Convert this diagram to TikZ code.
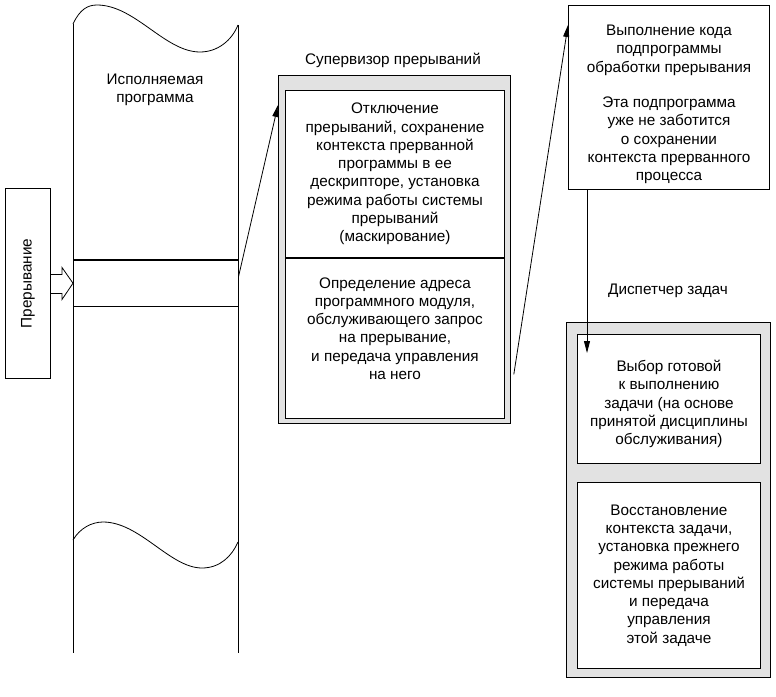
\documentclass[tikz,border=0pt]{standalone}
\usepackage{fontspec}
\setmainfont{Liberation Sans}
\usepackage{tikz}
\usetikzlibrary{arrows.meta, positioning, calc}
\definecolor{stipple}{HTML}{E2E2E2}

\tikzset{
  box/.style={draw, line width=1pt, fill=white, inner sep=0pt},
  shadebox/.style={draw, line width=0.8pt, fill=stipple, inner sep=0pt},
  txt/.style={font=\fontsize{15.3}{18.3}\selectfont, align=center},
  conn/.style={-{Triangle[length=12pt,width=6pt]}, line width=0.8pt}
}

\begin{document}
\begin{tikzpicture}[x=1pt, y=-1pt]
  \useasboundingbox (0,0) rectangle (776,696);

  % Executing program: tape with wavy cut-offs
  \draw[line width=1pt] (73,24) -- (73,653);
  \draw[line width=1pt] (238,25) -- (238,653);
  \draw[line width=0.8pt] (73,24) .. controls (80,9) and (88,5) .. (97,5)
    .. controls (135,5) and (165,52) .. (200,52)
    .. controls (218,52) and (232,40) .. (238,25);
  \draw[line width=0.8pt] (73,540) .. controls (80,528) and (92,522) .. (103,522)
    .. controls (140,522) and (170,568) .. (202,568)
    .. controls (220,568) and (232,556) .. (238,542);
  \node[txt] (prog) at (155,90) {Исполняемая\\программа};

  % interrupted place in the program
  \node[minimum width=165pt, minimum height=46pt, anchor=north west, inner sep=0pt] (band) at (73,260) {};
  \draw[line width=1.3pt] (band.north west) -- (band.north east);
  \draw[line width=1.3pt] (band.south west) -- (band.south east);

  % interrupt request
  \node[box, minimum width=45pt, minimum height=190pt, anchor=north west] (intr) at (5,188) {};
  \node[txt, rotate=90] at (intr.center) {Прерывание};
  \draw[line width=0.8pt, fill=white]
    ($(intr.east)+(0,-9)$) -- ++(11,0) -- ++(0,-7) -- (band.west)
    -- ($(intr.east)+(11,16)$) -- ++(0,-6) -- ($(intr.east)+(0,10)$);

  % interrupt supervisor
  \node[txt] (suplbl) at (393,60) {Супервизор прерываний};
  \node[shadebox, minimum width=232pt, minimum height=348pt, anchor=north west] (sup) at (278,75) {};
  \node[box, minimum width=219pt, minimum height=167pt, anchor=north west] (supA) at (285,90)
    {\parbox{210pt}{\centering\fontsize{15.3}{18.3}\selectfont
      Отключение\\прерываний, сохранение\\контекста прерванной\\программы в ее\\
      дескрипторе, установка\\режима работы системы\\прерываний\\(маскирование)}};
  \node[box, minimum width=219pt, minimum height=160pt, anchor=north west] (supB) at (supA.south west) {};
  \node[txt] at ($(supB.center)+(0,-10)$)
    {Определение адреса\\программного модуля,\\обслуживающего запрос\\на прерывание,\\
     и передача управления\\на него};

  % interrupt handler
  \node[box, minimum width=201pt, minimum height=184pt, anchor=north west] (hdl) at (568,5) {};
  \node[txt] at ($(hdl.center)+(0,7)$)
    {Выполнение кода\\подпрограммы\\обработки прерывания\\[17pt]
     Эта подпрограмма\\уже не заботится\\о сохранении\\контекста прерванного\\процесса};

  % task dispatcher
  \node[txt] (displbl) at (668,291) {Диспетчер задач};
  \node[shadebox, minimum width=204pt, minimum height=355pt, anchor=north west] (disp) at (566,322) {};
  \node[box, minimum width=183pt, minimum height=129pt, anchor=north west] (dispA) at (577,334) {};
  \node[txt] at ($(dispA.center)+(0,5)$)
    {Выбор готовой\\к выполнению\\задачи (на основе\\принятой дисциплины\\обслуживания)};
  \node[box, minimum width=183pt, minimum height=186pt, anchor=north west] (dispB) at (577,482) {};
  \node[txt] at (dispB.center)
    {Восстановление\\контекста задачи,\\установка прежнего\\режима работы\\системы прерываний\\
     и передача\\управления\\этой задаче};

  % transfers of control
  \draw[conn] ($(band.east)+(0,-6)$) -- ($(sup.north west)+(0,30)$);
  \draw[conn] ($(sup.east)+(3,125)$) -- ($(hdl.north west)+(0,20)$);
  \draw[conn] ($(hdl.south west)+(19,0)$) -- ($(dispA.north west)+(10,19)$);
\end{tikzpicture}
\end{document}
